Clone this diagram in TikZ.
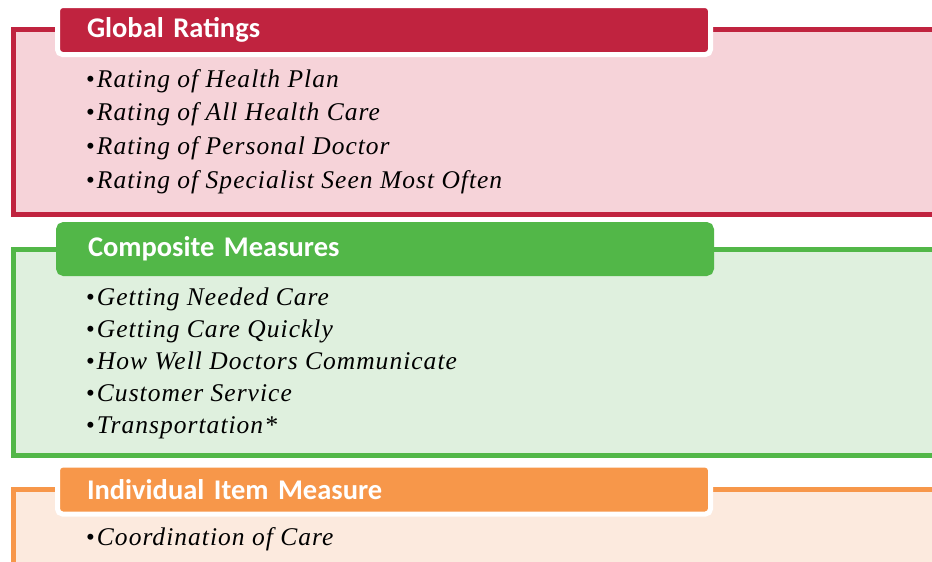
\documentclass[tikz,border=0pt]{standalone}
\usepackage{fontspec}
\setmainfont{Liberation Serif}
\newfontfamily\headfont{Carlito}
\newfontfamily\itemfont[LetterSpace=4]{Liberation Serif}
\usetikzlibrary{positioning}
\definecolor{ratingred}{HTML}{C0233F}
\definecolor{ratingpink}{HTML}{F6D3D9}
\definecolor{compgreen}{HTML}{52B748}
\definecolor{complight}{HTML}{DFF0DE}
\definecolor{itemorange}{HTML}{F7974A}
\definecolor{itemlight}{HTML}{FCEADE}
\tikzstyle{panel}=[line width=5pt]
\tikzstyle{header}=[draw=white,line width=5pt,rounded corners=5pt,anchor=center,minimum width=653pt,minimum height=49pt,text width=594pt,inner xsep=29.5pt,inner ysep=0pt,align=left,text=white,font=\headfont\bfseries\fontsize{28.5}{28.5}\selectfont]
\tikzstyle{item}=[anchor=base west,inner sep=0pt,font=\itemfont\fontsize{25.5}{25.5}\selectfont]
\newcommand{\itemtext}[1]{{\setmainfont{Liberation Serif}\fontsize{25}{25}\selectfont\textbullet}\hspace{2pt}\textit{#1}}

\begin{document}
\begin{tikzpicture}[x=1pt,y=-1pt]
\useasboundingbox (0,0) rectangle (932,562);
\clip (0,0) rectangle (932,562);
% outer panels
\draw[panel,draw=ratingred,fill=ratingpink] (13.5,29.5) rectangle (960,214.5);
\draw[panel,draw=compgreen,fill=complight] (13.5,249.5) rectangle (960,455);
\draw[panel,draw=itemorange,fill=itemlight] (13.5,489.5) rectangle (960,600);
% headers
\node[header,fill=ratingred] (global) at (384,30) {Global Ratings};
\node[header,fill=compgreen,draw=compgreen] (composite) at (385,249) {Composite Measures};
\node[header,fill=itemorange] (individual) at (384,489.5) {Individual Item Measure};
% items
\foreach \txt [count=\i] in {Rating of Health Plan,Rating of All Health Care,Rating of Personal Doctor,Rating of Specialist Seen Most Often}
  \node[item] (rating\i) at (86,{87+33.7*(\i-1)}) {\itemtext{\txt}};
\foreach \txt [count=\i] in {Getting Needed Care,Getting Care Quickly,How Well Doctors Communicate,Customer Service,Transportation*}
  \node[item] (measure\i) at (86,{305+32*(\i-1)}) {\itemtext{\txt}};
\node[item] (coord1) at (86,545) {\itemtext{Coordination of Care}};
\end{tikzpicture}
\end{document}
